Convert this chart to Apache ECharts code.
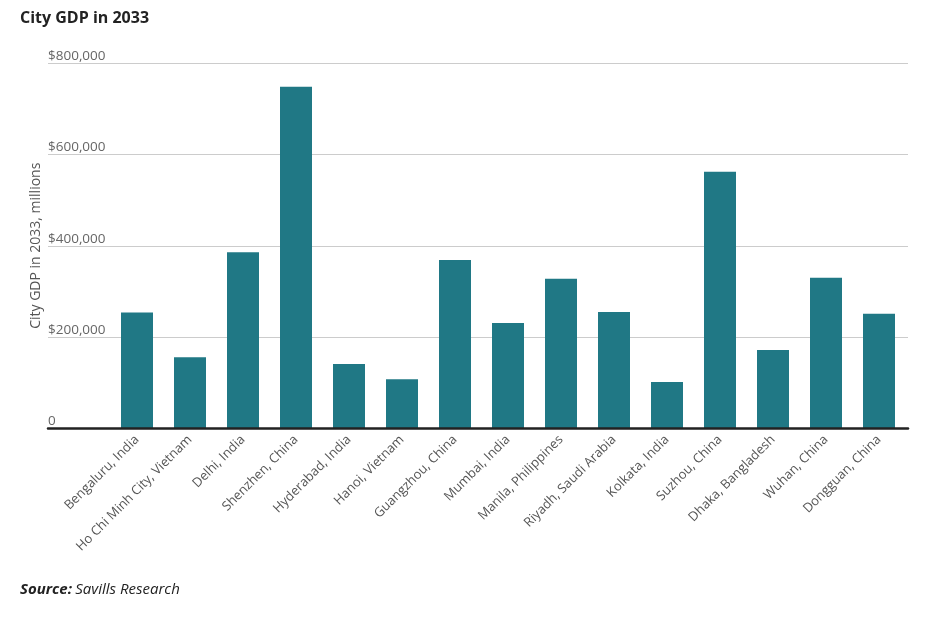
<!DOCTYPE html>
<html>
<head>
<meta charset="utf-8">
<script src="https://cdn.jsdelivr.net/npm/echarts@6/dist/echarts.min.js"></script>
<style>html,body{margin:0;padding:0;background:#fff}#c{width:933px;height:620px}</style>
</head>
<body>
<div id="c"></div>
<script>
const categories = ["Bengaluru, India","Ho Chi Minh City, Vietnam","Delhi, India","Shenzhen, China","Hyderabad, India","Hanoi, Vietnam","Guangzhou, China","Mumbai, India","Manila, Philippines","Riyadh, Saudi Arabia","Kolkata, India","Suzhou, China","Dhaka, Bangladesh","Wuhan, China","Dongguan, China"];
const gdp2033 = [254000,156000,386000,748000,141000,108000,369000,231000,328000,255000,102000,562000,172000,330000,251000];
const yTicks = [0,200000,400000,600000,800000];
const FONT = "Open Sans";

const chart = echarts.init(document.getElementById('c'));
const yMin = yTicks[0], yMax = yTicks[yTicks.length-1], yStep = yTicks[1]-yTicks[0];
chart.setOption({
  animation:false,
  textStyle:{fontFamily:FONT},
  title:{text:"City GDP in 2033",left:15,top:5,textStyle:{fontFamily:FONT,fontWeight:'bold',fontSize:16,color:'#222'}},
  graphic:[{type:'text',left:20,top:582,style:{text:'{b|Source:} {i|Savills Research}',rich:{b:{fontFamily:FONT,fontStyle:'italic',fontWeight:'bold',fontSize:15,fill:'#222'},i:{fontFamily:FONT,fontStyle:'italic',fontSize:15,fill:'#222'}}}}],
  grid:[
    {left:48,right:25,top:63,bottom:191.5},
    {left:110.5,right:27.5,top:63,bottom:191.5}
  ],
  xAxis:[
    {gridIndex:0,type:'category',data:[''],axisLine:{show:true,lineStyle:{color:'#222',width:2.5}},axisTick:{show:false},axisLabel:{show:false},z:5},
    {gridIndex:1,type:'category',data:categories,axisLine:{show:false},axisTick:{show:false},
     axisLabel:{rotate:45,margin:9,color:'#555',fontSize:13,fontFamily:FONT,interval:0}}
  ],
  yAxis:[
    {gridIndex:0,type:'value',min:yMin,max:yMax,interval:yStep,
     name:'City GDP in 2033, millions',nameLocation:'middle',nameGap:5,nameRotate:90,nameMoveOverlap:false,
     nameTextStyle:{color:'#555',fontSize:14,fontFamily:FONT},
     axisLine:{show:false},axisTick:{show:false},
     splitLine:{lineStyle:{color:'#cccccc',width:1}},
     axisLabel:{inside:true,margin:0,align:'left',verticalAlign:'bottom',padding:[0,0,0,0],color:'#666',fontSize:13.5,fontFamily:FONT,
       formatter:v=> v===0 ? '0' : '$'+v.toLocaleString('en-US')}},
    {gridIndex:1,type:'value',min:yMin,max:yMax,interval:yStep,show:false,splitLine:{show:false}}
  ],
  series:[{type:'bar',xAxisIndex:1,yAxisIndex:1,data:gdp2033,barWidth:32,itemStyle:{color:'#207885'}}]
});
</script>
</body>
</html>
